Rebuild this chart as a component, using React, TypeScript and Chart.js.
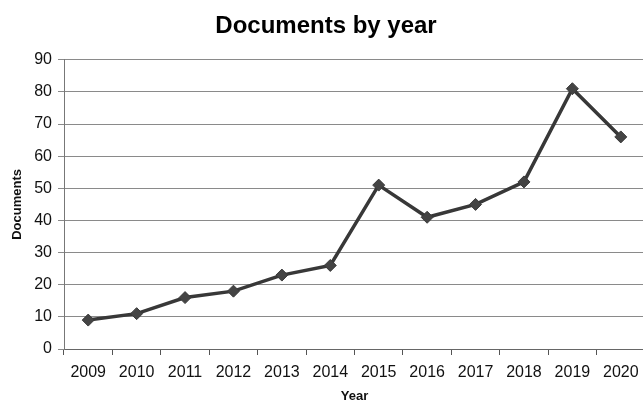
import React, { useEffect, useRef } from "react";
import { Chart, registerables } from "chart.js";

Chart.register(...registerables);

const years = ["2009", "2010", "2011", "2012", "2013", "2014", "2015", "2016", "2017", "2018", "2019", "2020"];
const documents = [9, 11, 16, 18, 23, 26, 51, 41, 45, 52, 81, 66];
const yMin = 0;
const yMax = 90;
const yStep = 10;

export default function App() {
  const ref = useRef<HTMLCanvasElement | null>(null);
  useEffect(() => {
    document.body.style.margin = "0";
    document.body.style.overflow = "hidden";
    const ctx = ref.current!;
    const chart = new Chart(ctx, {
      type: "line",
      data: {
        labels: years,
        datasets: [
          {
            label: "Documents",
            data: documents,
            borderColor: "#383838",
            backgroundColor: "#404040",
            borderWidth: 3.5,
            pointStyle: "rectRot",
            pointRadius: 6,
            pointBackgroundColor: "#444444",
            pointBorderColor: "#3a3a3a",
            pointBorderWidth: 1,
            tension: 0,
          },
        ],
      },
      options: {
        animation: false,
        responsive: false,
        maintainAspectRatio: false,
        layout: { padding: { left: 0, right: 0, top: 0, bottom: 0 } },
        plugins: {
          legend: { display: false },
          tooltip: { enabled: false },
          title: {
            display: true,
            text: "Documents by year",
            color: "#000",
            font: { family: "Liberation Sans, Arial", size: 24, weight: "bold" },
            padding: { top: 12, bottom: 19 },
          },
        },
        scales: {
          x: {
            offset: true,
            grid: {
              offset: true,
              drawOnChartArea: false,
              drawTicks: true,
              tickLength: 6,
              color: "#555",
              lineWidth: 1,
            },
            border: { display: true, color: "#666", width: 1 },
            ticks: {
              color: "#111",
              font: { family: "Liberation Sans, Arial", size: 16 },
              padding: 8,
              maxRotation: 0,
              autoSkip: false,
            },
            title: {
              display: true,
              text: "Year",
              color: "#111",
              font: { family: "Liberation Sans, Arial", size: 13, weight: "bold" },
              padding: { top: 8, bottom: -3 },
            },
            afterFit: (scale: any) => {
              scale.height = 52;
            },
          },
          y: {
            min: yMin,
            max: yMax,
            ticks: {
              stepSize: yStep,
              color: "#111",
              font: { family: "Liberation Sans, Arial", size: 16 },
              padding: 6,
            },
            grid: {
              color: "#8a8a8a",
              lineWidth: 1,
              drawTicks: true,
              tickLength: 6,
            },
            border: { display: true, color: "#777", width: 1 },
            title: {
              display: true,
              text: "Documents",
              color: "#111",
              font: { family: "Liberation Sans, Arial", size: 13, weight: "bold" },
              padding: { top: 10, bottom: 4 },
            },
            afterFit: (scale: any) => {
              scale.width = 64;
            },
          },
        },
      },
    });
    return () => chart.destroy();
  }, []);
  return (
    <div style={{ width: 643, height: 401, overflow: "hidden" }}>
      <canvas ref={ref} width={652} height={401} style={{ display: "block" }} />
    </div>
  );
}
